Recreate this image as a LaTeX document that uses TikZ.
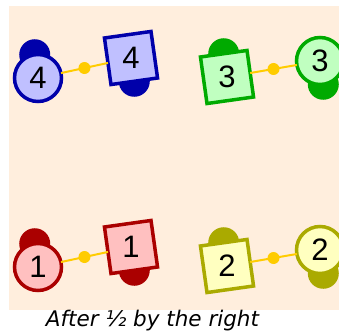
\documentclass[tikz,border=0pt]{standalone}
\usepackage{fontspec}
\setmainfont{Liberation Sans}
\newfontfamily\capfont{DejaVu Sans}
\pgfdeclarelayer{back}
\pgfsetlayers{back,main}
\definecolor{bgc}{HTML}{FFEEDD}
\definecolor{linkc}{HTML}{FFCC00}
\definecolor{bstroke}{HTML}{0000AA}\definecolor{bfill}{HTML}{C0C0FF}
\definecolor{gstroke}{HTML}{00AA00}\definecolor{gfill}{HTML}{C0FFC0}
\definecolor{rstroke}{HTML}{AA0000}\definecolor{rfill}{HTML}{FFC0C0}
\definecolor{ystroke}{HTML}{AAAA00}\definecolor{yfill}{HTML}{FFFFC0}
\tikzset{
  cshape/.style={circle, draw, line width=3.5pt, minimum size=47pt, inner sep=0pt, outer sep=0pt},
  sshape/.style={rectangle, draw, line width=3.5pt, minimum size=47pt, inner sep=0pt, outer sep=0pt, rotate=8},
  lbl/.style={inner sep=0pt, font=\fontsize{31}{31}\selectfont},
  link/.style={draw=linkc, line width=2pt},
  dotnode/.style={circle, fill=linkc, minimum size=12pt, inner sep=0pt},
  caption/.style={font=\capfont\itshape\fontsize{21.5}{21.5}\selectfont, anchor=base, inner sep=0pt}
}
\begin{document}
\begin{tikzpicture}[x=1pt,y=-1pt]
\useasboundingbox (0,0) rectangle (339,331);
\begin{pgfonlayer}{back}
\fill[bgc] (9,6) rectangle (339,310);
\end{pgfonlayer}
% ---- pair 4 (blue)
\node[cshape, draw=bstroke, fill=bfill] (c4) at (38,78) {};
\node[lbl] (t4a) at (c4) {4};
\node[sshape, draw=bstroke, fill=bfill] (s4) at (131,58) {};
\node[lbl] (t4b) at (s4) {4};
\draw[link] (c4) -- node[dotnode] (d4) {} (s4);
% ---- pair 3 (green)
\node[sshape, draw=gstroke, fill=gfill] (s3) at (227,77) {};
\node[lbl] (t3a) at (s3) {3};
\node[cshape, draw=gstroke, fill=gfill] (c3) at (320,61) {};
\node[lbl] (t3b) at (c3) {3};
\draw[link] (s3) -- node[dotnode] (d3) {} (c3);
% ---- pair 1 (red)
\node[cshape, draw=rstroke, fill=rfill] (c1) at (38,267) {};
\node[lbl] (t1a) at (c1) {1};
\node[sshape, draw=rstroke, fill=rfill] (s1) at (131,247) {};
\node[lbl] (t1b) at (s1) {1};
\draw[link] (c1) -- node[dotnode] (d1) {} (s1);
% ---- pair 2 (olive)
\node[sshape, draw=ystroke, fill=yfill] (s2) at (227,266) {};
\node[lbl] (t2a) at (s2) {2};
\node[cshape, draw=ystroke, fill=yfill] (c2) at (320,250) {};
\node[lbl] (t2b) at (c2) {2};
\draw[link] (s2) -- node[dotnode] (d2) {} (c2);
% ---- blobs behind
\begin{pgfonlayer}{back}
\fill[bstroke] (c4.98) circle (15.5);
\fill[bstroke] (s4.south) circle (15.5);
\fill[gstroke] (s3.north) circle (15.5);
\fill[gstroke] (c3.278) circle (15.5);
\fill[rstroke] (c1.98) circle (15.5);
\fill[rstroke] (s1.south) circle (15.5);
\fill[ystroke] (s2.north) circle (15.5);
\fill[ystroke] (c2.278) circle (15.5);
\end{pgfonlayer}
\node[caption] (cap) at (152.5,326) {After ½ by the right};
\end{tikzpicture}
\end{document}
